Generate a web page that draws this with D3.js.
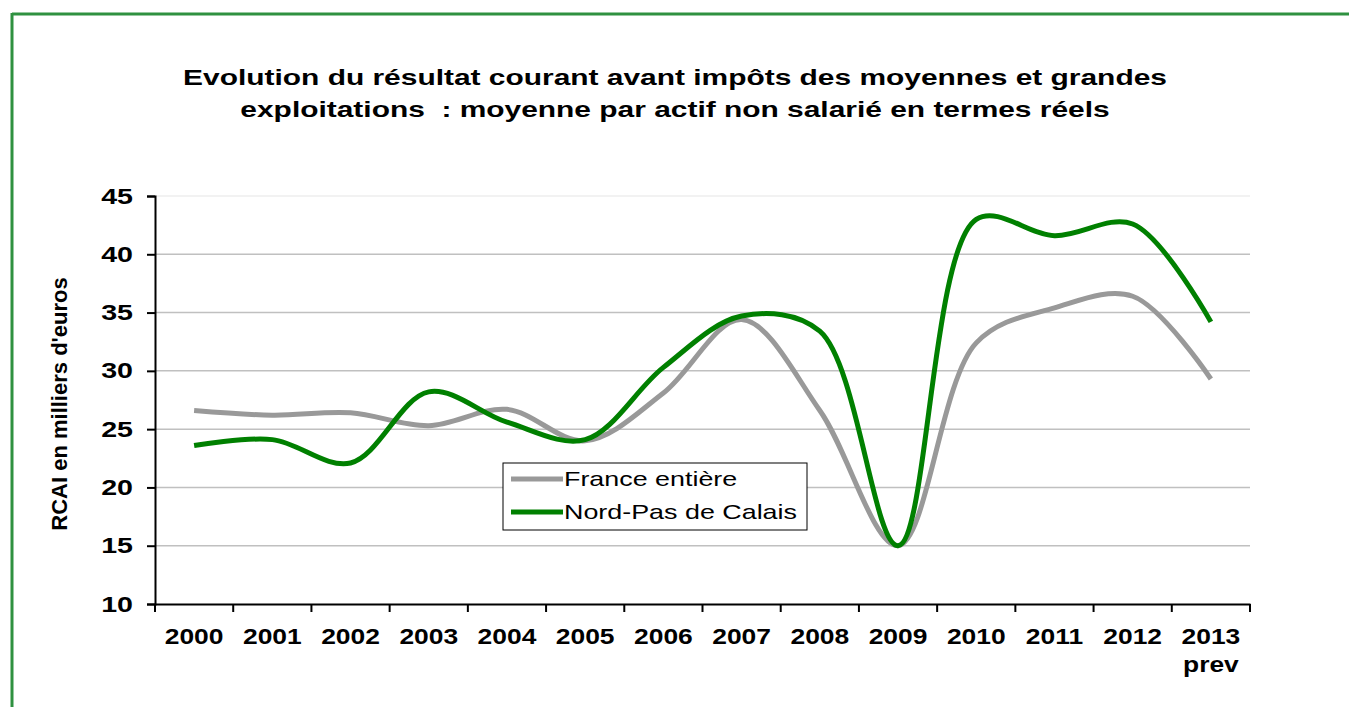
<!DOCTYPE html>
<meta charset="utf-8">
<head>
  <title>RCAI moyennes et grandes exploitations</title>
  <style>
    body { margin: 0; background: #fff; }
    text { font-family: "Liberation Sans", Arial, sans-serif; }
  </style>
</head>
<body>
<script src="https://d3js.org/d3.v7.min.js"></script>
<script>

const years = ["2000", "2001", "2002", "2003", "2004", "2005", "2006",
               "2007", "2008", "2009", "2010", "2011", "2012", "2013"];
const yearNotes = { "2013": "prev" };

const france = [26.6, 26.2, 26.4, 25.3, 26.7, 24.0, 28.1,
                34.4, 26.6, 15.0, 32.4, 35.4, 36.4, 29.3];
const nordPas = [23.6, 24.1, 22.1, 28.2, 25.6, 24.1, 30.3,
                 34.7, 33.4, 15.0, 43.0, 41.6, 42.6, 34.2];

const yTicks = [10, 15, 20, 25, 30, 35, 40, 45];

const titleLines = [
  "Evolution du résultat courant avant impôts des moyennes et grandes",
  "exploitations  : moyenne par actif non salarié en termes réels"
];
const yLabel = "RCAI en milliers d'euros";

const series = [
  { name: "France entière", values: france, color: "#999999" },
  { name: "Nord-Pas de Calais", values: nordPas, color: "#008000" }
];

const W = 1349, H = 707;
const margin = { top: 196, right: 99, bottom: 103, left: 155 };
const width = W - margin.left - margin.right,
      height = H - margin.top - margin.bottom;

// the source picture is stretched sideways, so horizontal text gets widened
const stretchY = 1.3, stretchX = 1.2;

const svg = d3.select("body").append("svg")
    .attr("width", W)
    .attr("height", H);

// frame
svg.append("line").attr("x1", 12).attr("x2", W).attr("y1", 14).attr("y2", 14)
  .style("stroke", "#2f9140").style("stroke-width", 3);
svg.append("line").attr("x1", 12).attr("x2", 12).attr("y1", 13).attr("y2", H)
  .style("stroke", "#2f9140").style("stroke-width", 3);

// title
svg.append("g")
  .attr("transform", "translate(675,85) scale(1.36,1)")
  .selectAll("text")
  .data(titleLines)
  .join("text")
  .attr("y", (d, i) => i * 32)
  .attr("text-anchor", "middle")
  .attr("xml:space", "preserve")
  .style("font-weight", "bold")
  .style("font-size", "22px")
  .text(d => d);

const g = svg.append("g")
    .attr("transform", "translate(" + margin.left + "," + margin.top + ")");

const x = d3.scaleBand()
    .domain(years)
    .range([0, width]);

const y = d3.scaleLinear()
    .domain([10, 45])
    .range([height, 0]);

// gridlines
g.append("g")
  .selectAll("line")
  .data(yTicks.filter(t => t > 10))
  .join("line")
  .attr("x1", 0)
  .attr("x2", width)
  .attr("y1", d => y(d))
  .attr("y2", d => y(d))
  .style("stroke", d => d === 45 ? "#eeeeee" : "#c0c0c0")
  .style("stroke-width", 1.5);

// lines
const line = d3.line()
  .x((d, i) => x(years[i]) + x.bandwidth() / 2)
  .y(d => y(d))
  .curve(d3.curveCatmullRom.alpha(0.5));

g.append("g")
  .selectAll("path")
  .data(series)
  .join("path")
  .attr("d", s => line(s.values))
  .style("fill", "none")
  .style("stroke", s => s.color)
  .style("stroke-width", 5);

// y axis
const yAxis = g.append("g")
  .call(d3.axisLeft(y).tickValues(yTicks).tickSize(8));
yAxis.select(".domain").style("stroke-width", 2);
yAxis.selectAll(".tick line").style("stroke-width", 2);
yAxis.selectAll("text")
  .attr("x", -22 / stretchY)
  .attr("transform", "scale(" + stretchY + ",1)")
  .style("font-size", "22px")
  .style("font-weight", "bold")
  .style("font-family", "Liberation Sans, Arial, sans-serif")
  .attr("fill", "#000");

// x axis
const xAxis = g.append("g")
  .attr("transform", "translate(0," + height + ")")
  .call(d3.axisBottom(x).tickSize(0).tickPadding(24));
xAxis.select(".domain").style("stroke-width", 2);
xAxis.selectAll("text")
  .attr("transform", "scale(" + stretchX + ",1)")
  .style("font-size", "22px")
  .style("font-weight", "bold")
  .style("font-family", "Liberation Sans, Arial, sans-serif")
  .attr("fill", "#000");
xAxis.selectAll(".tick").filter(d => yearNotes[d])
  .append("text")
  .attr("y", 68)
  .attr("transform", "scale(" + stretchX + ",1)")
  .attr("fill", "#000")
  .style("font-size", "22px")
  .style("font-weight", "bold")
  .style("font-family", "Liberation Sans, Arial, sans-serif")
  .text(d => yearNotes[d]);

// boundary ticks between categories
xAxis.append("g")
  .selectAll("line")
  .data(years.concat([null]))
  .join("line")
  .attr("x1", (d, i) => i * x.step())
  .attr("x2", (d, i) => i * x.step())
  .attr("y1", 0)
  .attr("y2", 8)
  .style("stroke", "#000")
  .style("stroke-width", 2);

// y label
svg.append("text")
  .attr("transform", "translate(67," + (margin.top + height / 2 + 4) + ") rotate(-90)")
  .attr("text-anchor", "middle")
  .style("font-size", "22px")
  .style("font-weight", "bold")
  .text(yLabel);

// legend
const legend = svg.append("g").attr("transform", "translate(503,463)");
legend.append("rect")
  .attr("width", 304)
  .attr("height", 67)
  .style("fill", "#fff")
  .style("stroke", "#000")
  .style("stroke-width", 1);
const item = legend.selectAll(".item")
  .data(series)
  .join("g")
  .attr("class", "item")
  .attr("transform", (d, i) => "translate(0," + (16 + i * 33) + ")");
item.append("line")
  .attr("x1", 8).attr("x2", 60)
  .style("stroke", d => d.color)
  .style("stroke-width", 5);
item.append("text")
  .attr("x", 61 / 1.28)
  .attr("dy", "0.35em")
  .attr("transform", "scale(1.28,1)")
  .style("font-size", "21px")
  .text(d => d.name);

</script>
</body>
</html>
